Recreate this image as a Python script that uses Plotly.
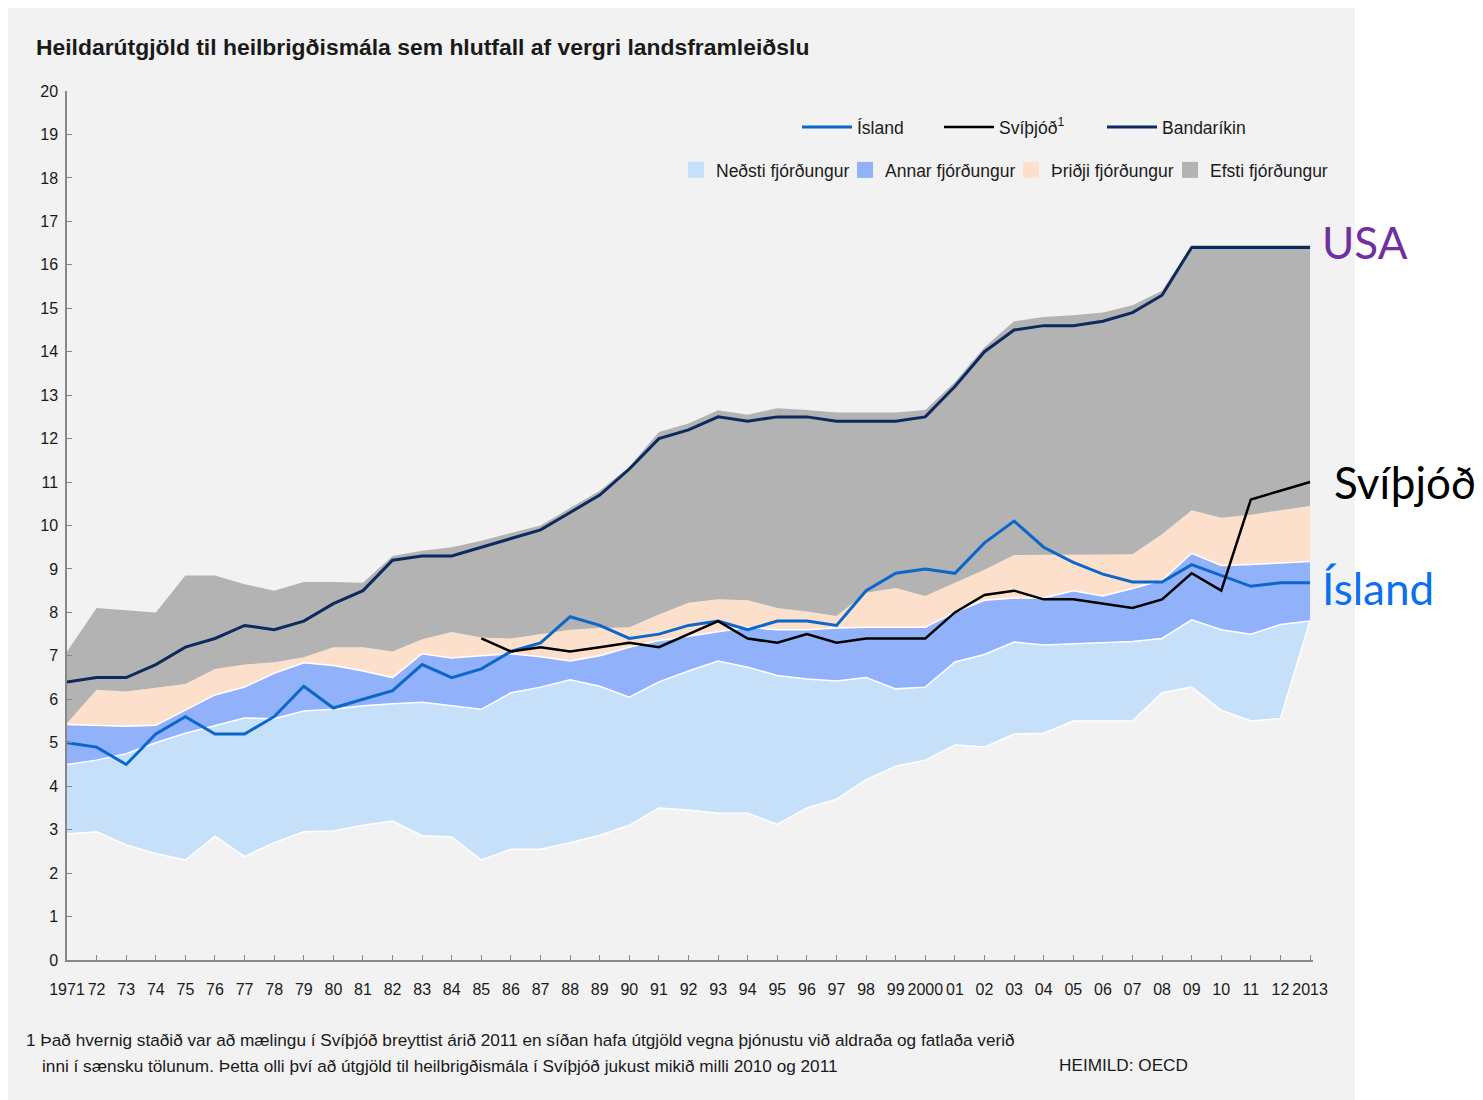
import plotly.graph_objects as go

# ---------------- data ----------------
years = list(range(1971, 2014))
tick_labels = ["1971", "72", "73", "74", "75", "76", "77", "78", "79", "80",
               "81", "82", "83", "84", "85", "86", "87", "88", "89", "90",
               "91", "92", "93", "94", "95", "96", "97", "98", "99", "2000",
               "01", "02", "03", "04", "05", "06", "07", "08", "09", "10",
               "11", "12", "2013"]

band_min = [2.9, 2.95, 2.65, 2.45, 2.3, 2.85, 2.38, 2.7, 2.95, 2.97,
            3.1, 3.2, 2.86, 2.83, 2.3, 2.55, 2.55, 2.7, 2.87, 3.1,
            3.5, 3.45, 3.38, 3.38, 3.12, 3.5, 3.7, 4.15, 4.46, 4.6,
            4.95, 4.9, 5.2, 5.22, 5.5, 5.5, 5.5, 6.15, 6.28, 5.75,
            5.5, 5.56, 7.8]
band_q1 = [4.5, 4.6, 4.75, 5.0, 5.22, 5.4, 5.57, 5.55, 5.73, 5.77,
           5.85, 5.9, 5.93, 5.85, 5.77, 6.15, 6.28, 6.45, 6.3, 6.05,
           6.4, 6.65, 6.88, 6.74, 6.55, 6.47, 6.42, 6.5, 6.24, 6.28,
           6.86, 7.03, 7.32, 7.25, 7.28, 7.3, 7.33, 7.4, 7.83, 7.6,
           7.5, 7.72, 7.8]
band_median = [5.42, 5.4, 5.38, 5.4, 5.75, 6.1, 6.28, 6.6, 6.84, 6.78,
               6.65, 6.5, 7.05, 6.95, 7.0, 7.05, 6.98, 6.88, 7.0, 7.2,
               7.35, 7.45, 7.55, 7.66, 7.6, 7.6, 7.64, 7.66, 7.66, 7.66,
               8.0, 8.28, 8.33, 8.33, 8.5, 8.38, 8.55, 8.74, 9.36, 9.08,
               9.1, 9.13, 9.17]
band_q3 = [5.45, 6.22, 6.18, 6.26, 6.35, 6.7, 6.8, 6.85, 6.97, 7.2,
           7.2, 7.1, 7.38, 7.55, 7.42, 7.4, 7.5, 7.6, 7.64, 7.66,
           7.95, 8.22, 8.3, 8.28, 8.1, 8.02, 7.92, 8.45, 8.56, 8.38,
           8.68, 8.98, 9.32, 9.32, 9.33, 9.33, 9.34, 9.8, 10.35, 10.18,
           10.25, 10.35, 10.45]
band_max = [7.1, 8.1, 8.05, 8.0, 8.85, 8.85, 8.65, 8.5, 8.7, 8.7,
            8.68, 9.3, 9.42, 9.5, 9.65, 9.82, 10.0, 10.4, 10.8, 11.35,
            12.15, 12.35, 12.65, 12.55, 12.7, 12.66, 12.6, 12.6, 12.6, 12.66,
            13.3, 14.1, 14.7, 14.8, 14.84, 14.9, 15.07, 15.4, 16.45, 16.45,
            16.45, 16.45, 16.45]

iceland = [5.0, 4.9, 4.5, 5.2, 5.6, 5.2, 5.2, 5.6, 6.3, 5.8,
           6.0, 6.2, 6.8, 6.5, 6.7, 7.1, 7.3, 7.9, 7.7, 7.4,
           7.5, 7.7, 7.8, 7.6, 7.8, 7.8, 7.7, 8.5, 8.9, 9.0,
           8.9, 9.6, 10.1, 9.5, 9.15, 8.88, 8.7, 8.7, 9.1, 8.85,
           8.6, 8.68, 8.68]
sweden_years = list(range(1985, 2014))
sweden = [7.4, 7.1, 7.2, 7.1, 7.2, 7.3, 7.2, 7.5, 7.8, 7.4,
          7.3, 7.5, 7.3, 7.4, 7.4, 7.4, 8.0, 8.4, 8.5, 8.3,
          8.3, 8.2, 8.1, 8.3, 8.9, 8.5, 10.6, 10.8, 11.0]
usa = [6.4, 6.5, 6.5, 6.8, 7.2, 7.4, 7.7, 7.6, 7.8, 8.2,
       8.5, 9.2, 9.3, 9.3, 9.5, 9.7, 9.9, 10.3, 10.7, 11.3,
       12.0, 12.2, 12.5, 12.4, 12.5, 12.5, 12.4, 12.4, 12.4, 12.5,
       13.2, 14.0, 14.5, 14.6, 14.6, 14.7, 14.9, 15.3, 16.4, 16.4,
       16.4, 16.4, 16.4]

line_names = ["Ísland", "Svíþjóð<sup>1</sup>", "Bandaríkin"]
band_names = ["Neðsti fjórðungur", "Annar fjórðungur", "Þriðji fjórðungur", "Efsti fjórðungur"]
end_labels = ["USA", "Svíþjóð", "Ísland"]

# ---------------- style ----------------
FONT = "Liberation Sans, Arial, sans-serif"
C_PANEL = "#f2f2f2"
C_Q1 = "#c7e0fa"
C_Q2 = "#91b1fb"
C_Q3 = "#fde0cc"
C_Q4 = "#b3b3b3"
C_ISL = "#0b67c9"
C_SWE = "#000000"
C_USA = "#0d2a5e"
TXT = "#1a1a1a"

OFF = 8  # page body margin of the browser
W, H = 1483 - OFF, 1100 - OFF
# plot area in reference pixel coordinates
RL, RR, RT, RB = 67, 1313, 91, 960
L, R, T, B = RL - OFF, RR - OFF, RT - OFF, RB - OFF
pw, ph = R - L, B - T


def px(xr):
    return (xr - RL) / pw


def py(yr):
    return (RB - yr) / ph


fig = go.Figure()

# stacked quartile bands
fig.add_trace(go.Scatter(x=years, y=band_min, mode="lines",
                         line=dict(color="white", width=1.5),
                         showlegend=False, hoverinfo="skip"))
for vals, col, lw in [(band_q1, C_Q1, 1.5), (band_median, C_Q2, 1.5),
                      (band_q3, C_Q3, 0), (band_max, C_Q4, 0)]:
    fig.add_trace(go.Scatter(x=years, y=vals, mode="lines", fill="tonexty",
                             fillcolor=col,
                             line=dict(color="white" if lw else col, width=lw),
                             showlegend=False, hoverinfo="skip"))

# country lines
for xs, ys, nm, col, lw, lgw in [(years, iceland, line_names[0], C_ISL, 3, 77),
                                 (sweden_years, sweden, line_names[1], C_SWE, 2.5, 98),
                                 (years, usa, line_names[2], C_USA, 3, 90)]:
    fig.add_trace(go.Scatter(x=xs, y=ys, mode="lines", name=nm,
                             line=dict(color=col, width=lw), legend="legend",
                             legendwidth=lgw))

# legend entries for the bands
for nm, col, lgw in zip(band_names, [C_Q1, C_Q2, C_Q3, C_Q4], [124, 121, 114, 118]):
    fig.add_trace(go.Scatter(x=[None], y=[None], mode="markers", name=nm,
                             marker=dict(symbol="square", size=16, color=col,
                                         line=dict(width=0)),
                             legend="legend2", legendwidth=lgw))

fig.update_layout(
    width=W, height=H,
    margin=dict(l=L, r=W - R, t=T, b=H - B, pad=0),
    paper_bgcolor="white",
    plot_bgcolor="rgba(0,0,0,0)",
    font=dict(family=FONT, color=TXT),
    showlegend=True,
    legend=dict(orientation="h", x=px(797), y=py(109), xanchor="left", yanchor="top",
                bgcolor="rgba(0,0,0,0)", font=dict(size=17.5, family=FONT, color=TXT),
                itemwidth=50, traceorder="normal"),
    legend2=dict(orientation="h", x=px(676), y=py(152), xanchor="left", yanchor="top",
                 bgcolor="rgba(0,0,0,0)", font=dict(size=17.5, family=FONT, color=TXT),
                 itemwidth=30, traceorder="normal"),
    xaxis=dict(range=[1971, 2013.1], tickmode="array", tickvals=years, ticktext=tick_labels,
               tickangle=0, ticks="inside", ticklen=5, tickcolor="#888", showline=True,
               linecolor="#888", linewidth=1.5, showgrid=False, zeroline=False,
               tickfont=dict(size=16, family=FONT, color=TXT),
               ticklabelstandoff=14, fixedrange=True),
    yaxis=dict(range=[0, 20], dtick=1, ticks="inside", ticklen=5, tickcolor="#888",
               showline=True, linecolor="#888", linewidth=1.5, showgrid=False,
               zeroline=False, tickfont=dict(size=16, family=FONT, color=TXT),
               ticklabelstandoff=4, fixedrange=True),
    shapes=[dict(type="rect", xref="paper", yref="paper", layer="below",
                 x0=px(7), x1=px(1355), y0=py(1100), y1=py(5),
                 fillcolor=C_PANEL, line=dict(width=0))],
)

ann = [
    dict(text="<b>Heildarútgjöld til heilbrigðismála sem hlutfall af vergri landsframleiðslu</b>",
         x=px(34), y=py(47), xanchor="left", yanchor="middle",
         font=dict(size=22.9, family=FONT, color=TXT)),
    dict(text="1 Það hvernig staðið var að mælingu í Svíþjóð breyttist árið 2011 en síðan hafa útgjöld vegna þjónustu við aldraða og fatlaða verið",
         x=px(24), y=py(1040), xanchor="left", yanchor="middle",
         font=dict(size=17.2, family=FONT, color=TXT)),
    dict(text="inni í sænsku tölunum. Þetta olli því að útgjöld til heilbrigðismála í Svíþjóð jukust mikið milli 2010 og 2011",
         x=px(40), y=py(1066), xanchor="left", yanchor="middle",
         font=dict(size=17.2, family=FONT, color=TXT)),
    dict(text="HEIMILD: OECD", x=px(1057), y=py(1065), xanchor="left", yanchor="middle",
         font=dict(size=17.2, family=FONT, color=TXT)),
]

# end-of-line labels (paper coordinates; y from the last data value on a 0-20 axis)
LABEL_FONT = "Lato, Open Sans, sans-serif"
for txt, last, xr, ysh, col in [(end_labels[0], usa[-1], 1320, 5, "#7030a0"),
                                (end_labels[1], sweden[-1], 1332, 0, "#000000"),
                                (end_labels[2], iceland[-1], 1320, -5, "#0a6ff0")]:
    ann.append(dict(text=txt, x=px(xr), y=last / 20.0, yshift=ysh,
                    xanchor="left", yanchor="middle",
                    font=dict(size=44, family=LABEL_FONT, color=col)))

for a in ann:
    a.update(xref="paper", yref="paper", showarrow=False)
fig.update_layout(annotations=ann)

fig.write_html("out.html")
